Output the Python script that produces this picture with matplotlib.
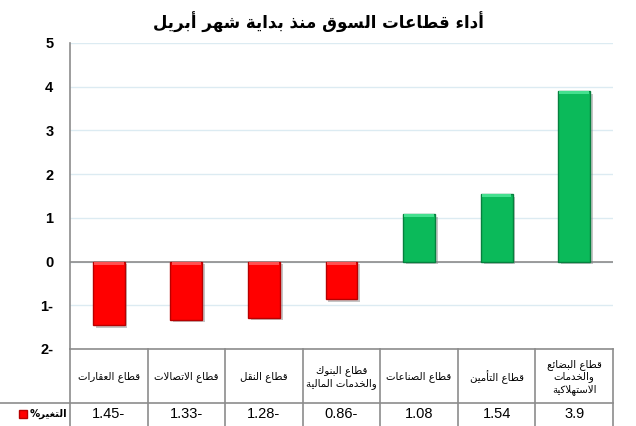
import numpy as np
import matplotlib
matplotlib.use('Agg')
import matplotlib.pyplot as plt
import matplotlib.patheffects as pe

# chart data (left to right as in the picture)
title = 'أداء قطاعات السوق منذ بداية شهر أبريل'
sectors = ['قطاع العقارات', 'قطاع الاتصالات', 'قطاع النقل',
           'قطاع البنوك\nوالخدمات المالية', 'قطاع الصناعات', 'قطاع التأمين',
           'قطاع البضائع\nوالخدمات\nالاستهلاكية']
changes = [-1.45, -1.33, -1.28, -0.86, 1.08, 1.54, 3.9]
change_labels = ['1.45-', '1.33-', '1.28-', '0.86-', '1.08', '1.54', '3.9']
yticks = [-2, -1, 0, 1, 2, 3, 4, 5]
ytick_labels = ['2-', '1-', '0', '1', '2', '3', '4', '5']
legend_label = 'التغير'


# matplotlib has no arabic shaping, so we map letters to presentation forms
# and reverse them for left-to-right drawing
DUAL = {'ئ': 0xFE89, 'ب': 0xFE8F, 'ت': 0xFE95, 'ث': 0xFE99, 'ج': 0xFE9D,
        'ح': 0xFEA1, 'خ': 0xFEA5, 'س': 0xFEB1, 'ش': 0xFEB5, 'ص': 0xFEB9,
        'ض': 0xFEBD, 'ط': 0xFEC1, 'ظ': 0xFEC5, 'ع': 0xFEC9, 'غ': 0xFECD,
        'ف': 0xFED1, 'ق': 0xFED5, 'ك': 0xFED9, 'ل': 0xFEDD, 'م': 0xFEE1,
        'ن': 0xFEE5, 'ه': 0xFEE9, 'ي': 0xFEF1}
RIGHT = {'آ': 0xFE81, 'أ': 0xFE83, 'ؤ': 0xFE85, 'إ': 0xFE87, 'ا': 0xFE8D,
         'ة': 0xFE93, 'د': 0xFEA9, 'ذ': 0xFEAB, 'ر': 0xFEAD, 'ز': 0xFEAF,
         'و': 0xFEED, 'ى': 0xFEEF}
NONE = {'ء': 0xFE80}
LAMALEF = {'آ': 0xFEF5, 'أ': 0xFEF7, 'إ': 0xFEF9, 'ا': 0xFEFB}


def shape_line(s):
    tokens = []
    i = 0
    while i < len(s):
        c = s[i]
        if c == 'ل' and i + 1 < len(s) and s[i + 1] in LAMALEF:
            tokens.append((c, 'R', LAMALEF[s[i + 1]]))
            i += 2
            continue
        if c in DUAL:
            tokens.append((c, 'D', DUAL[c]))
        elif c in RIGHT:
            tokens.append((c, 'R', RIGHT[c]))
        elif c in NONE:
            tokens.append((c, 'N', NONE[c]))
        else:
            tokens.append((c, None, None))
        i += 1
    out = []
    for j, (c, k, b) in enumerate(tokens):
        if k is None:
            out.append(c)
            continue
        prev = tokens[j - 1][1] if j > 0 else None
        nxt = tokens[j + 1][1] if j + 1 < len(tokens) else None
        jp = prev == 'D' and k in ('D', 'R')
        jn = k == 'D' and nxt in ('D', 'R')
        if k == 'N':
            code = b
        elif k == 'R':
            code = b + 1 if jp else b
        else:
            code = b + (3 if jp and jn else 1 if jp else 2 if jn else 0)
        out.append(chr(code))
    return ''.join(out)[::-1]


def shape(s):
    return '\n'.join(shape_line(line) for line in s.split('\n'))


plt.rcParams['font.family'] = ['DejaVu Sans']
num_font = ['Liberation Sans', 'DejaVu Sans']

W, H = 636, 426
fig = plt.figure(figsize=(W / 100, H / 100), dpi=100)
left, right, top, bottom = 70, 613, 43, 349
ax = fig.add_axes([left / W, 1 - bottom / H, (right - left) / W, (bottom - top) / H])
tab = fig.add_axes([left / W, 0, (right - left) / W, (H - bottom) / H])

x = np.arange(len(changes))
face = ['#FF0000' if v < 0 else '#0BBA5A' for v in changes]
edge = ['#B80000' if v < 0 else '#06803E' for v in changes]
light = ['#FF5050' if v < 0 else '#45E08F' for v in changes]
w = 0.41

for yv in yticks:
    ax.axhline(yv, color='#DCEBF2', lw=1, zorder=0)
ax.axhline(0, color='#8C8C8C', lw=1.2, zorder=1)

bars = ax.bar(x, changes, width=w, color=face, edgecolor=edge, lw=1, zorder=3)
for b in bars:
    b.set_path_effects([pe.SimplePatchShadow(offset=(2, -2), shadow_rgbFace='#808080', alpha=0.45),
                        pe.Normal()])
# bevel highlight on the top edge
tops = [max(v, 0) for v in changes]
ax.bar(x, [-0.07] * len(x), width=w - 0.03, bottom=tops, color=light, lw=0, zorder=4)

ax.set_xlim(-0.5, len(x) - 0.5)
ax.set_ylim(-2, 5)
ax.set_yticks(yticks)
ax.set_yticklabels(ytick_labels, fontweight='bold', fontsize=10.5, family=num_font)
ax.tick_params(axis='y', length=0, pad=12)
ax.set_xticks([])
for s in ['top', 'right']:
    ax.spines[s].set_visible(False)
for s in ['left', 'bottom']:
    ax.spines[s].set_color('#8C8C8C')
    ax.spines[s].set_linewidth(1.2)

fig.text(0.5, 1 - 22 / H, shape(title), ha='center', va='center',
         fontsize=12, fontweight='bold')

# data table under the chart, in pixel rows
unit = (right - left) / len(x)
tab.set_xlim(-0.5, len(x) - 0.5)
tab.set_ylim(H - bottom, 0)
tab.axis('off')
lc = '#8C8C8C'
for i in range(len(x) + 1):
    tab.plot([i - 0.5, i - 0.5], [0, H - bottom], color=lc, lw=1.2, clip_on=False)
tab.plot([-0.5 - left / unit, len(x) - 0.5], [54, 54], color=lc, lw=1.2, clip_on=False)

for i in range(len(x)):
    tab.text(x[i], 28, shape(sectors[i]), ha='center', va='center',
             fontsize=7.3, linespacing=1.2)
    tab.text(x[i], 65, change_labels[i], ha='center', va='center',
             fontsize=10.5, family=num_font)

tab.plot([-0.5 - 47 / unit], [65], marker='s', ms=5.5, color='#FF0000',
         mec='#B80000', clip_on=False)
tab.text(-0.5 - 3 / unit, 65, '%' + shape(legend_label), ha='right', va='center',
         fontsize=7.3, fontweight='bold')

fig.savefig('out.png', dpi=100)
